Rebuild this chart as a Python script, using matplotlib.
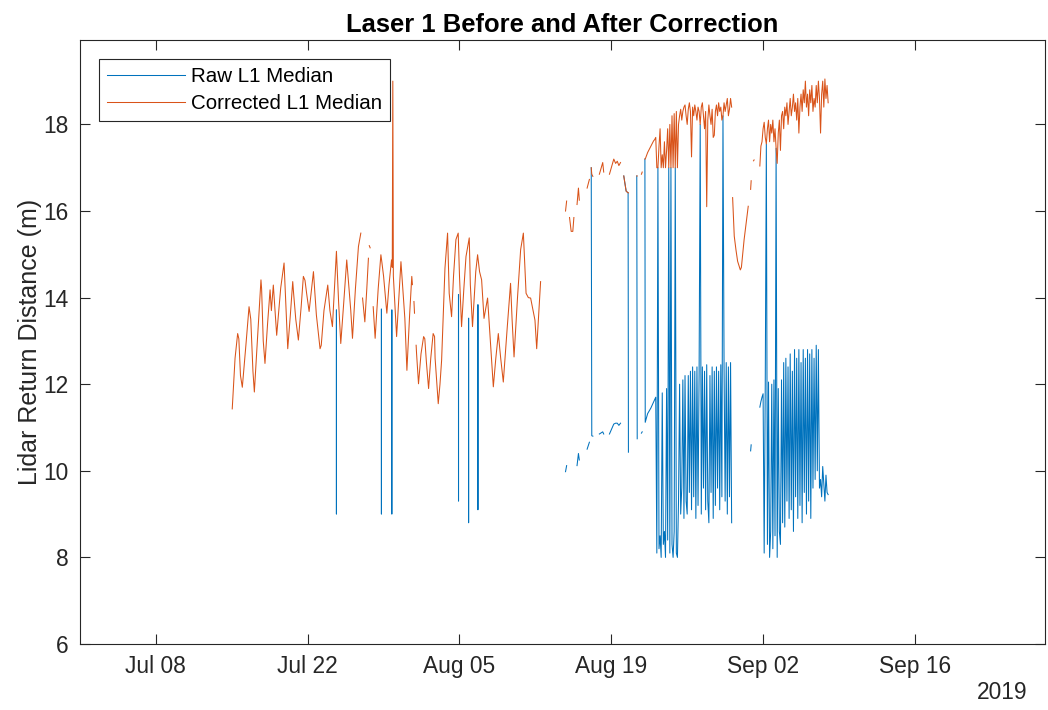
import numpy as np
import matplotlib
matplotlib.use('Agg')
import matplotlib.pyplot as plt
import matplotlib.dates as mdates

nan = np.nan
START = '2019-07-01'   # day 0 for all the "day" arrays below

# ---- Jul 15 - Aug 12: corrected signal (raw sits under it apart from drop-outs)
c1_day = [14.04, 14.30, 14.54, 14.65, 14.80, 14.97, 15.30, 15.59, 15.75, 15.95,
          16.08, 16.40, 16.69, 16.75, 16.90, 17.06, 17.30, 17.53, 17.65, 17.83,
          18.14, 18.51, 18.82, 19.16, 19.40, 19.62, 19.70, 19.90, 20.14, 20.40,
          20.60, 20.75, 20.90, 21.13, 21.53, 21.80, 22.14, 22.25, 22.50, 22.85,
          23.05, 23.28, 23.53, 23.65, 23.85, 24.05, 24.30, 24.60, 24.97, 25.13,
          25.40, 25.68, 25.90, 25.95, 26.06, 26.27, 26.45, 26.60, 26.64, 26.68,
          26.76, 26.80, 27.04, 27.22, 27.50, 27.75, 27.85, 28.00, 28.30, 28.50,
          28.73, 28.80, 28.85, 28.90, 29.20, 29.60, 29.96, 30.15, 30.40, 30.60,
          30.66, 30.70, 30.80, 30.85, 30.90, 31.00, 31.04, 31.22, 31.45, 31.69,
          31.80, 31.95, 32.15, 32.35, 32.57, 32.70, 32.75, 33.04, 33.20, 33.35,
          33.66, 33.90, 34.05, 34.27, 34.45, 34.67, 34.88, 35.00, 35.19, 35.40,
          35.60, 35.90, 36.00, 36.20, 36.50, 36.67, 36.85, 37.04, 37.26, 37.59,
          37.85, 38.12, 38.35, 38.58, 38.80, 39.04, 39.40, 39.71, 39.85, 40.03,
          40.35, 40.64, 40.89, 41.14, 41.35, 41.56, 41.96, 42.12, 42.30, 42.48]
c1_corr = [11.43, 12.60, 13.17, 13.05, 12.20, 11.93, 12.90, 13.79, 13.50, 12.30,
           11.82, 13.20, 14.41, 14.20, 13.00, 12.48, 13.40, 14.18, 13.70, 14.29,
           13.13, 14.22, 14.80, 12.82, 13.60, 14.37, 14.10, 13.50, 13.02, 13.80,
           14.49, 14.40, 14.10, 13.68, 14.60, 13.60, 12.82, 12.90, 13.70, 14.29,
           13.70, 13.33, 14.49, 15.07, 13.90, 12.94, 13.80, 14.87, 13.71, 13.06,
           14.20, 15.18, 15.49, nan, 13.99, 13.44, 14.20, 14.91, nan, 15.20,
           15.15, nan, 13.79, 13.06, 14.20, 14.99, 14.80, 14.49, 13.64, 14.30,
           14.87, 14.70, 19.00, 14.50, 13.10, 14.83, 13.52, 12.32, 13.60, 14.49,
           14.30, nan, 13.91, 13.64, nan, 12.90, 12.71, 12.01, 12.70, 13.10,
           13.05, 12.50, 11.90, 12.60, 13.17, 13.10, 12.60, 11.55, 12.00, 12.55,
           14.68, 15.49, 14.10, 13.56, 14.50, 15.34, 15.49, 14.50, 13.33, 14.20,
           14.95, 15.38, 14.30, 13.33, 14.60, 14.99, 14.60, 14.41, 13.52, 13.99,
           13.00, 11.94, 12.60, 13.17, 12.60, 12.05, 13.30, 14.33, 13.50, 12.63,
           14.00, 15.11, 15.49, 14.10, 14.00, 13.99, 13.48, 12.82, 13.60, 14.37]

# raw drop-outs in the first window
drop_day = [23.65, 27.80, 28.76, 34.91, 35.84, 36.70]
drop_top = [13.71, 13.73, 13.71, 14.06, 13.52, 13.83]
drop_low = [9.00, 9.00, 9.00, 9.30, 8.80, 9.10]

# ---- Aug 14 - Aug 21
s2_day = [44.78, 44.88, 44.95, 45.15, 45.30, 45.45, 45.55, 45.60, 45.84, 45.97,
          46.05, 46.10, 46.77, 46.98, 47.05, 47.15, 47.20, 47.30, 47.35, 47.90,
          48.21, 48.30, 48.35, 48.83, 49.23, 49.40, 49.55, 49.70, 49.85, 49.95,
          50.15, 50.37, 50.55, 50.58, 50.62, 51.35, 51.39, 51.45, 51.78, 51.85,
          51.90, 52.10, 52.13, 52.35, 52.65, 52.90]
s2_corr = [16.00, 16.23, nan, 15.85, 15.53, 15.53, 15.85, nan, 16.15, 16.53,
           16.25, nan, 16.53, 16.73, nan, 17.00, 16.85, 16.80, nan, 16.85,
           17.12, 16.90, nan, 16.85, 17.20, 17.10, 17.15, 17.05, 17.12, nan,
           16.81, 16.46, 16.42, 16.42, nan, 16.81, 16.81, nan, 16.85, 16.90,
           nan, 17.20, 17.20, 17.35, 17.50, 17.62]
s2_raw = [9.98, 10.12, nan, nan, nan, nan, nan, nan, 10.12, 10.40,
          10.25, nan, 10.50, 10.66, nan, 17.00, 10.81, 10.80, nan, 10.85,
          10.90, 10.85, nan, 10.85, 11.08, 11.10, 11.10, 11.05, 11.10, nan,
          16.81, 16.46, 16.42, 10.43, nan, 16.81, 10.74, nan, 10.87, 10.90,
          nan, 17.20, 11.12, 11.32, 11.45, 11.59]

# ---- Aug 21 - Aug 30, one sample every 0.1 day from day 53.0
s3_first, s3_step = 53.0, 0.1
s3_raw = [11.65, 11.70, 8.10, 17.00, 8.20, 8.50, 8.00, 11.80, 8.30, 8.60,
          8.00, 11.90, 8.40, 17.00, 8.10, 17.00, 8.30, 8.00, 8.60, 17.00,
          8.10, 8.00, 9.30, 12.00, 9.00, 9.60, 12.10, 8.90, 12.20, 9.30,
          9.00, 12.20, 9.50, 12.30, 9.10, 12.40, 9.40, 12.30, 8.90, 12.40,
          9.20, 12.30, 18.00, 9.00, 12.40, 9.60, 12.30, 9.10, 12.45, 9.30,
          8.80, 12.20, 9.50, 12.40, 8.90, 12.30, 9.20, 12.40, 9.60, 12.30,
          9.10, 12.45, 9.40, 18.20, 12.40, 9.30, 12.50, 9.00, 12.40, 9.40,
          12.50, 8.80]
s3_corr = [17.65, 17.70, 17.00, 17.00, 17.50, 17.90, 17.00, 17.30, 17.00, 17.60,
           17.00, 17.40, 17.90, 17.00, 18.00, 17.00, 18.20, 17.00, 18.25, 17.00,
           18.30, 17.00, 18.00, 18.20, 18.35, 18.10, 18.30, 18.40, 18.45, 18.20,
           18.00, 18.35, 18.50, 18.30, 17.25, 18.40, 18.20, 18.45, 18.30, 18.10,
           18.40, 18.30, 18.00, 18.40, 18.50, 18.20, 17.90, 18.30, 16.10, 18.10,
           18.45, 18.20, 18.00, 18.35, 17.70, 17.75, 18.30, 18.45, 18.20, 18.50,
           18.30, 18.40, 18.10, 18.20, 18.50, 18.30, 18.45, 18.60, 18.20, 18.35,
           18.60, 18.40]

# ---- Aug 30 - Sep 1 dip
s4_day = [60.19, 60.34, 60.50, 60.65, 60.90, 61.00, 61.25, 61.63, 61.70, 61.85,
          61.90, 61.95, 62.12, 62.17]
s4_corr = [16.31, 15.42, 15.10, 14.84, 14.64, 14.70, 15.34, 16.11, nan, 16.50,
           16.70, nan, 17.16, 17.18]
s4_raw = [nan, nan, nan, nan, nan, nan, nan, nan, nan, 10.46,
          10.60, nan, nan, nan]

# ---- Sep 1 - Sep 8, one sample every 0.1 day from day 62.7
s5_first, s5_step = 62.7, 0.1
s5_raw = [11.47, 11.60, 11.70, 11.78, 8.10, 12.00, 17.55, 8.30, 12.05, 8.00,
          8.60, 12.00, 8.20, 12.10, 8.50, 17.45, 8.00, 11.90, 8.60, 8.30,
          12.10, 8.80, 12.50, 8.70, 12.60, 9.30, 12.40, 8.90, 12.70, 9.10,
          12.30, 8.60, 12.80, 9.40, 12.60, 8.90, 12.80, 9.20, 12.50, 8.80,
          12.80, 9.50, 12.60, 9.00, 12.80, 9.30, 12.70, 8.90, 12.80, 9.60,
          12.60, 9.80, 12.90, 10.00, 12.80, 9.60, 9.80, 9.40, 10.10, 9.70,
          9.30, 9.90, 9.50, 9.45]
s5_corr = [17.04, 17.50, 17.60, 17.90, 18.05, 17.70, 17.55, 17.90, 18.10, 17.60,
           18.00, 17.80, 18.10, 17.60, 17.90, 17.45, 17.10, 17.80, 18.10, 17.40,
           18.20, 18.30, 17.90, 18.40, 18.20, 18.50, 18.00, 18.30, 18.60, 18.20,
           18.40, 18.70, 18.30, 18.50, 18.10, 18.60, 17.80, 18.40, 18.70, 18.30,
           18.80, 18.50, 19.00, 18.40, 18.70, 18.20, 18.80, 18.50, 18.90, 18.30,
           18.60, 18.40, 18.90, 18.50, 19.00, 18.60, 17.80, 18.70, 19.00, 18.40,
           19.05, 18.60, 18.90, 18.50]

tick_dates = ['2019-07-08', '2019-07-22', '2019-08-05', '2019-08-19',
              '2019-09-02', '2019-09-16']
y_ticks = [6, 8, 10, 12, 14, 16, 18]

# ------------------------------------------------------------------
base = mdates.datestr2num(START)
s3_day = s3_first + s3_step * np.arange(len(s3_raw))
s5_day = s5_first + s5_step * np.arange(len(s5_raw))

drop_x, drop_y = [], []
for d, top, low in zip(drop_day, drop_top, drop_low):
    drop_x += [d - 0.005, d, d + 0.005, nan]
    drop_y += [top, low, top, nan]

gap = [nan]
raw_x = np.concatenate([drop_x, s2_day, s3_day, gap, s4_day, gap, s5_day]) + base
raw_y = np.concatenate([drop_y, s2_raw, s3_raw, gap, s4_raw, gap, s5_raw])
corr_x = np.concatenate([c1_day, gap, s2_day, s3_day, gap, s4_day, gap, s5_day]) + base
corr_y = np.concatenate([c1_corr, gap, s2_corr, s3_corr, gap, s4_corr, gap, s5_corr])

plt.rcParams['font.family'] = ['Liberation Sans', 'DejaVu Sans']
ink = '#262626'

fig = plt.figure(figsize=(10.48, 7.10), dpi=100)
ax = fig.add_axes([80 / 1048, 66 / 710, 965 / 1048, 604 / 710])

ax.plot(raw_x, raw_y, color='#0072BD', lw=0.75, label='Raw L1 Median')
ax.plot(corr_x, corr_y, color='#D95319', lw=0.75, label='Corrected L1 Median')

ax.set_xlim(base, base + 89)
ax.set_ylim(6, 19.95)
ax.set_xticks(mdates.datestr2num(tick_dates))
ax.xaxis.set_major_formatter(mdates.DateFormatter('%b %d'))
ax.set_yticks(y_ticks)

for s in ax.spines.values():
    s.set_color(ink)
    s.set_linewidth(0.8)
ax.tick_params(direction='in', length=7, width=0.8, colors=ink,
               labelsize=16.4, top=True, right=True)
ax.tick_params(axis='x', pad=8)
ax.tick_params(axis='y', pad=8)

ax.set_title('Laser 1 Before and After Correction', fontsize=18.4, fontweight='bold',
             color='black', pad=6)
ax.set_ylabel('Lidar Return Distance (m)', fontsize=18, color=ink)
ax.yaxis.set_label_coords(-0.039, 0.5)
ax.text(0.982, -0.081, '2019', transform=ax.transAxes, ha='right', va='center',
        fontsize=16.4, color=ink)

leg = ax.legend(loc='upper left', fontsize=14.8, frameon=True, fancybox=False,
                edgecolor=ink, framealpha=1, handlelength=3.8, handletextpad=0.3,
                borderpad=0.4, labelspacing=0.4, borderaxespad=0.9)
leg.get_frame().set_linewidth(0.8)

fig.savefig('out.png', dpi=100, facecolor='white')
